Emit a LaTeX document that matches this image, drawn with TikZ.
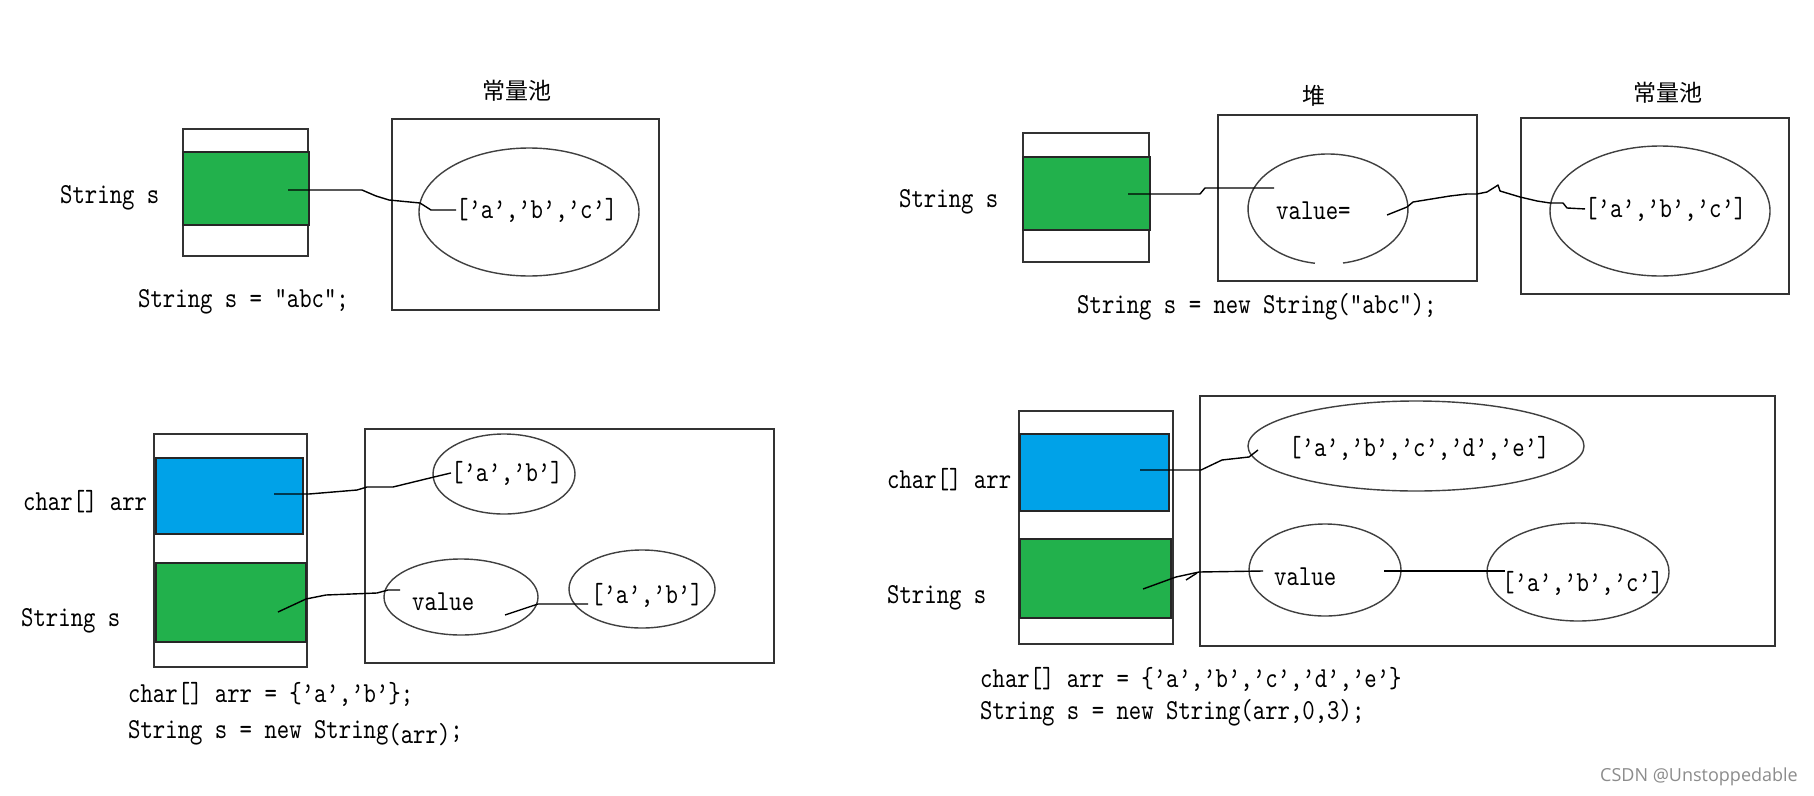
\documentclass[tikz,border=0pt]{standalone}
\usepackage{fontspec}
\newfontfamily\codefont{lmmono10-regular.otf}[FakeStretch=0.814]
\newfontfamily\cjk{Noto Sans CJK SC}
\newfontfamily\wmfont{Open Sans}
\usetikzlibrary{shapes.geometric}
\definecolor{pgreen}{RGB}{34,177,76}
\definecolor{pblue}{RGB}{0,162,232}
\begin{document}
\begin{tikzpicture}[x=1pt,y=-1pt,
  box/.style={draw=black!80, line width=1.6pt, inner sep=0pt, anchor=north west},
  gbox/.style={box, fill=pgreen, draw=black!85},
  bbox/.style={box, fill=pblue, draw=black!85},
  ell/.style={draw=black!75, line width=1.4pt, ellipse, inner sep=0pt},
  code/.style={font=\codefont\fontsize{29}{34}\selectfont, inner sep=0pt, anchor=base west},
  wire/.style={line width=1.4pt, line join=round},
  lbl/.style={font=\cjk\fontsize{23}{26}\selectfont, inner sep=0pt}]
\useasboundingbox[fill=white] (0,0) rectangle (1814,795);

% ---------------- Panel 1 ----------------
\node[lbl] (p1pool) at (517,91) {常量池};
\node[code] (p1lab) at (60,203) {String s};
\node[box, minimum width=125pt, minimum height=127pt] (p1stack) at (182,128) {};
\node[gbox, minimum width=126pt, minimum height=73pt] (p1g) at (182,151) {};
\node[box, minimum width=267pt, minimum height=191pt] (p1pbox) at (391,118) {};
\node[ell, minimum width=220pt, minimum height=128pt] (p1e) at (529,212) {};
\node[code] (p1t) at (456,218) {[’a’,’b’,’c’]};
\node[code] (p1code) at (138,307) {String s = “abc”;};
\coordinate (p1c) at (288,190);
\draw[wire] (p1c) -- (362,190) -- (376,196) -- (389,200) -- (420,203) -- (431,210) -- (p1t.west);

% ---------------- Panel 2 ----------------
\node[lbl] (p2heap) at (1314,96) {堆};
\node[lbl] (p2pool) at (1668,93) {常量池};
\node[code] (p2lab) at (899,207) {String s};
\node[box, minimum width=126pt, minimum height=129pt] (p2stack) at (1022,132) {};
\node[gbox, minimum width=127pt, minimum height=73pt] (p2g) at (1022,156) {};
\node[box, minimum width=259pt, minimum height=166pt] (p2hbox) at (1217,114) {};
\coordinate (p2hc) at (1328,209);
\draw[draw=black!75, line width=1.4pt] ([shift={(99.4:80 and 55)}]p2hc) arc[start angle=99.4, end angle=439.2, x radius=80, y radius=55];
\node[code] (p2v) at (1276,219) {value=};
\node[box, minimum width=268pt, minimum height=176pt] (p2pbox) at (1520,117) {};
\node[ell, minimum width=220pt, minimum height=130pt] (p2e) at (1660,211) {};
\node[code] (p2t) at (1585,217) {[’a’,’b’,’c’]};
\node[code] (p2code) at (1077,313) {String s = new String(“abc”);};
\coordinate (p2c) at (1128,194);
\coordinate (p2ve) at (1274,188);
\draw[wire] (p2c) -- (1200,194) -- (1205,188) -- (p2ve);
\coordinate (p2vs) at (1387,215);
\draw[wire] (p2vs) -- (1392,213) -- (1407,207) -- (1413,202) -- (1450,196) -- (1467,194) -- (1477,194) -- (1487,192) -- (1495,187) -- (1498,185) -- (1500,191) -- (1520,197) -- (1537,201) -- (1550,203) -- (1563,203) -- (1567,208) -- (p2t.west);

% ---------------- Panel 3 ----------------
\node[code] (p3lab1) at (23,510) {char[] arr};
\node[code] (p3lab2) at (21,626) {String s};
\node[box, minimum width=153pt, minimum height=233pt] (p3stack) at (153,433) {};
\node[bbox, minimum width=147pt, minimum height=76pt] (p3b) at (155,457) {};
\node[gbox, minimum width=150pt, minimum height=79pt] (p3g) at (155,562) {};
\node[box, minimum width=409pt, minimum height=234pt] (p3box) at (364,428) {};
\node[ell, minimum width=142pt, minimum height=80pt] (p3e1) at (504,474) {};
\node[code] (p3t1) at (451,481) {[’a’,’b’]};
\node[ell, minimum width=154pt, minimum height=76pt] (p3e2) at (461,597) {};
\node[code] (p3v) at (412,610) {value};
\node[ell, minimum width=146pt, minimum height=78pt] (p3e3) at (642,589) {};
\node[code] (p3t3) at (591,603) {[’a’,’b’]};
\node[code] (p3code1) at (128,702) {char[] arr = \{’a’,’b’\};};
\node[code] (p3code2) at (128,738) {String s = new String\raisebox{-5pt}{(arr)};};
\coordinate (p3c1) at (274,494);
\draw[wire] (p3c1) -- (309,494) -- (357,490) -- (367,487) -- (393,487) -- (434,477) -- (p3t1.west);
\coordinate (p3c2) at (278,612);
\coordinate (p3c2e) at (400,590);
\draw[wire] (p3c2) -- (306,599) -- (326,595) -- (377,593) -- (388,590) -- (p3c2e);
\coordinate (p3c3) at (505,615);
\coordinate (p3c3e) at (588,604);
\draw[wire] (p3c3) -- (520,610) -- (538,604) -- (p3c3e);

% ---------------- Panel 4 ----------------
\node[code] (p4lab1) at (887,488) {char[] arr};
\node[code] (p4lab2) at (887,603) {String s};
\node[box, minimum width=154pt, minimum height=233pt] (p4stack) at (1018,410) {};
\node[bbox, minimum width=149pt, minimum height=77pt] (p4b) at (1019,433) {};
\node[gbox, minimum width=151pt, minimum height=79pt] (p4g) at (1019,538) {};
\node[box, minimum width=575pt, minimum height=250pt] (p4box) at (1199,395) {};
\node[ell, minimum width=336pt, minimum height=90pt] (p4e1) at (1416,446) {};
\node[code] (p4t1) at (1289,456) {[’a’,’b’,’c’,’d’,’e’]};
\node[ell, minimum width=152pt, minimum height=92pt] (p4e2) at (1325,570) {};
\node[code] (p4v) at (1274,585) {value};
\node[ell, minimum width=182pt, minimum height=98pt] (p4e3) at (1578,572) {};
\node[code] (p4t3) at (1502,591) {[’a’,’b’,’c’]};
\node[code] (p4code1) at (980,687) {char[] arr = \{’a’,’b’,’c’,’d’,’e’\}};
\node[code] (p4code2) at (980,719) {String s = new String(arr,0,3);};
\coordinate (p4c1) at (1140,470);
\coordinate (p4c1e) at (1258,450);
\draw[wire] (p4c1) -- (1201,470) -- (1222,460) -- (1249,457) -- (p4c1e);
\coordinate (p4c2) at (1143,589);
\coordinate (p4c2e) at (1263,571);
\draw[wire] (p4c2) -- (1176,577) -- (1199,572) -- (p4c2e);
\draw[wire] (1186,580) -- (1197,573);
\coordinate (p4c3) at (1384,571);
\coordinate (p4c3e) at (1505,571);
\draw[wire] (p4c3) -- (p4c3e);

% watermark
\node[anchor=base east, inner sep=0pt, font=\wmfont\fontsize{18}{20}\selectfont, text=black!45] (wm) at (1798,781) {CSDN @Unstoppedable};
\end{tikzpicture}
\end{document}
